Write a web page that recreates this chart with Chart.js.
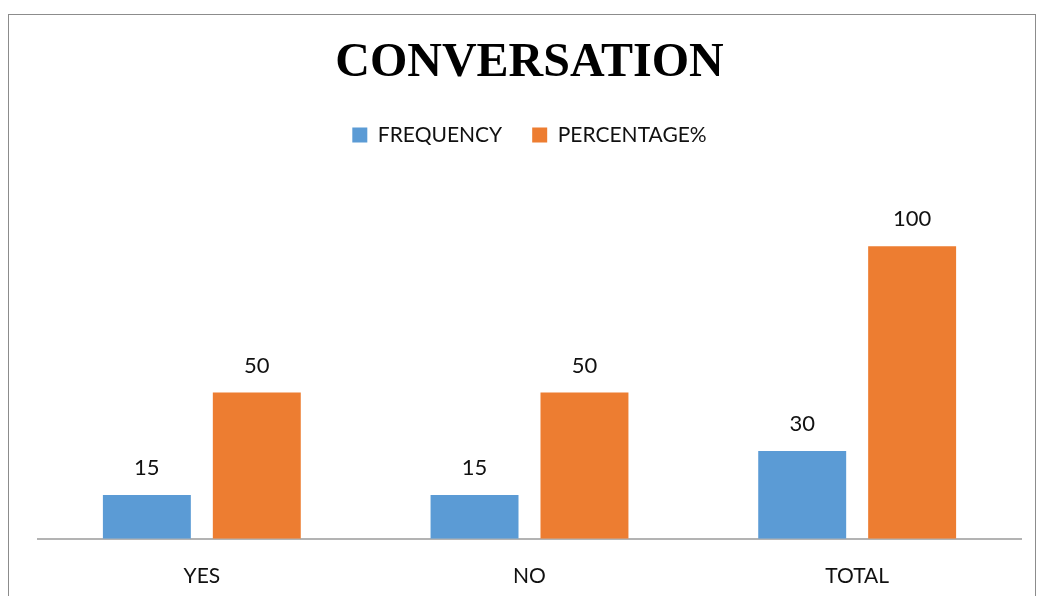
<!DOCTYPE html>
<html>
<head>
<meta charset="utf-8">
<title>CONVERSATION</title>
<script src="https://cdn.jsdelivr.net/npm/chart.js@4"></script>
<style>
  html, body { margin: 0; padding: 0; background: #fff; overflow: hidden; }
  #wrap { position: relative; width: 1037px; height: 596px; overflow: hidden; }
  #frame {
    position: absolute; left: 8px; top: 14px; width: 1026px; height: 700px;
    border: 1px solid #8c8c8c; pointer-events: none;
  }
  canvas { position: absolute; left: 0; top: 0; }
</style>
</head>
<body>
<div id="wrap">
  <div id="frame"></div>
  <!-- 下端は枠の外まで伸ばしている -->
  <canvas id="myChart" width="1037" height="623"></canvas>
</div>
<script>
  // データ
  const categories = ["YES", "NO", "TOTAL"];
  const frequency = [15, 15, 30];
  const percentage = [50, 50, 100];
  const seriesNames = ["FREQUENCY", "PERCENTAGE%"];

  const labelFont = '"Lato", "Open Sans", sans-serif';

  // 棒の上に値を書く
  const valueLabels = {
    id: "valueLabels",
    afterDatasetsDraw(chart) {
      const ctx = chart.ctx;
      ctx.save();
      ctx.font = "22px " + labelFont;
      ctx.fillStyle = "#111";
      ctx.textAlign = "center";
      ctx.textBaseline = "middle";
      chart.data.datasets.forEach((ds, i) => {
        chart.getDatasetMeta(i).data.forEach((bar, j) => {
          ctx.fillText(String(ds.data[j]), bar.x, bar.y - 27);
        });
      });
      ctx.restore();
    },
  };

  const data = {
    labels: categories,
    datasets: [
      {
        label: seriesNames[0],
        data: frequency,
        backgroundColor: "#5b9bd5",
        barPercentage: 0.8,
        categoryPercentage: 0.671,
      },
      {
        label: seriesNames[1],
        data: percentage,
        backgroundColor: "#ed7d31",
        barPercentage: 0.8,
        categoryPercentage: 0.671,
      },
    ],
  };

  const options = {
    responsive: false,
    animation: false,
    layout: { padding: { left: 38, right: 16, top: 0, bottom: 9 } },
    plugins: {
      title: {
        display: true,
        text: "CONVERSATION",
        color: "#000",
        font: { family: '"Liberation Serif", "Times New Roman", serif', size: 48, weight: "bold" },
        padding: { top: 35, bottom: 2 },
      },
      legend: {
        display: true,
        labels: {
          color: "#111",
          font: { family: labelFont, size: 21 },
          boxWidth: 15,
          boxHeight: 15,
          padding: 30,
        },
      },
      tooltip: { enabled: false },
    },
    scales: {
      x: {
        grid: { display: false, drawTicks: false },
        border: { display: true, color: "#b3b3b3", width: 2 },
        ticks: { color: "#111", font: { family: labelFont, size: 21 }, padding: 25 },
      },
      y: {
        display: false,
        min: 0,
        max: 131,
      },
    },
  };

  const ctx = document.getElementById("myChart").getContext("2d");
  const myChart = new Chart(ctx, {
    type: "bar",
    data: data,
    options: options,
    plugins: [valueLabels],
  });
</script>
</body>
</html>
